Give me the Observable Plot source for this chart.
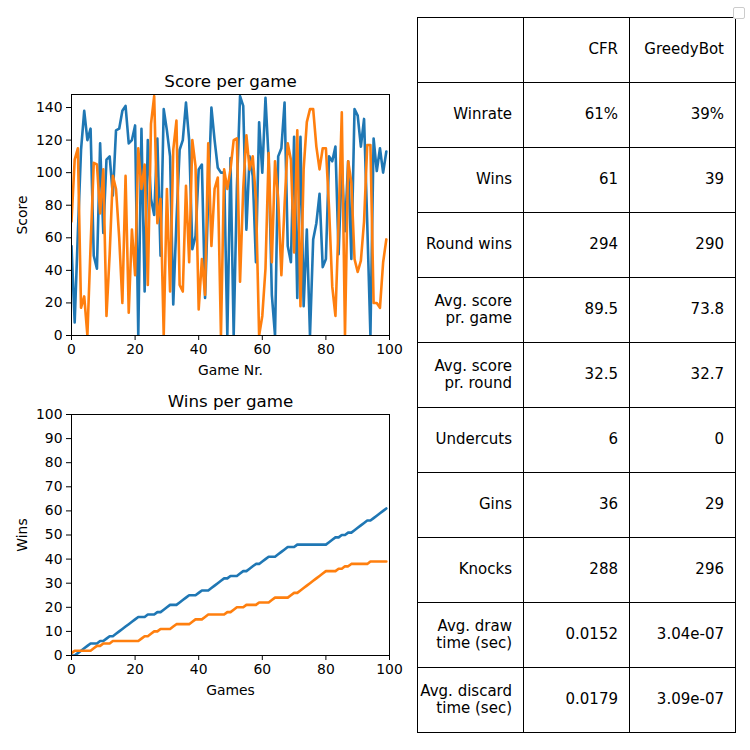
<!DOCTYPE html>
<html>
<head>
<meta charset="utf-8">
<script src="https://cdn.jsdelivr.net/npm/d3@7"></script>
<script src="https://cdn.jsdelivr.net/npm/@observablehq/plot@0.6"></script>
<style>
  body { margin: 0; background: #fff; font-family: "DejaVu Sans", sans-serif; }
  #fig { position: relative; width: 750px; height: 750px; overflow: hidden; }
  #score, #wins { position: absolute; left: 0; }
  #score { top: 60px; }
  #wins { top: 380px; }
  #stats { position: absolute; left: 417px; top: 17px; width: 319px;
           border-collapse: collapse; table-layout: fixed; font-size: 15px; }
  #stats td { border: 1px solid #000; text-align: right; vertical-align: middle;
              height: 64px; padding: 0 11px 0 0; line-height: 1.15; white-space: pre-line; }
  #legend { position: absolute; left: 733px; top: 7px; width: 10px; height: 10px;
            border: 1px solid #ccc; border-radius: 2px; background: #fff; }
</style>
</head>
<body>
<div id="fig">
  <div id="score"></div>
  <div id="wins"></div>
  <table id="stats"></table>
  <div id="legend"></div>
</div>
<script>
const players = ['CFR', 'GreedyBot']
const colors = ['#1f77b4', '#ff7f0e']

// score of each game, game 0..99
const cfrScores = [
  55, 8, 63, 114, 138, 120, 127, 49, 41, 118,
  63, 108, 110, 86, 126, 127, 138, 141, 118, 120,
  129, 0, 127, 27, 120, 84, 74, 121, 49, 139,
  126, 110, 19, 70, 114, 120, 143, 120, 53, 61,
  102, 105, 23, 85, 140, 120, 103, 100, 100, 0,
  109, 0, 90, 147, 141, 65, 110, 98, 45, 131,
  100, 146, 108, 25, 0, 110, 115, 143, 55, 45,
  122, 23, 122, 18, 65, 0, 59, 69, 87, 42,
  47, 110, 107, 116, 50, 105, 64, 107, 47, 139,
  135, 116, 133, 69, 0, 121, 101, 115, 100, 113
]
const greedyScores = [
  70, 108, 115, 17, 24, 0, 55, 106, 105, 75,
  102, 12, 50, 98, 90, 60, 20, 98, 14, 65,
  37, 115, 90, 105, 31, 130, 147, 69, 84, 0,
  90, 27, 114, 132, 31, 27, 92, 45, 120, 104,
  16, 47, 25, 118, 55, 90, 97, 0, 102, 90,
  102, 120, 121, 33, 90, 123, 102, 110, 84, 0,
  12, 41, 112, 45, 107, 84, 37, 80, 118, 108,
  51, 126, 18, 102, 131, 139, 139, 116, 102, 115,
  115, 78, 30, 12, 70, 137, 0, 107, 94, 47,
  39, 46, 70, 117, 117, 20, 20, 17, 45, 59
]

// cumulative wins after each game
const cfrWins = [
  0, 0, 1, 2, 3, 4, 5, 5, 5, 6,
  6, 7, 8, 8, 9, 10, 11, 12, 13, 14,
  15, 16, 16, 16, 17, 17, 17, 18, 18, 19,
  20, 21, 21, 21, 22, 23, 24, 25, 25, 25,
  26, 27, 27, 27, 28, 29, 30, 31, 32, 32,
  33, 33, 33, 34, 35, 35, 36, 37, 38, 38,
  39, 40, 41, 41, 41, 42, 43, 44, 45, 45,
  45, 46, 46, 46, 46, 46, 46, 46, 46, 46,
  46, 47, 48, 49, 49, 50, 50, 51, 51, 52,
  53, 54, 55, 56, 56, 57, 58, 59, 60, 61
]
const greedyWins = [
  1, 2, 2, 2, 2, 2, 2, 3, 4, 4,
  5, 5, 5, 6, 6, 6, 6, 6, 6, 6,
  6, 6, 7, 8, 8, 9, 10, 10, 11, 11,
  11, 11, 12, 13, 13, 13, 13, 13, 14, 15,
  15, 15, 16, 17, 17, 17, 17, 17, 17, 18,
  18, 19, 20, 20, 20, 21, 21, 21, 21, 22,
  22, 22, 22, 23, 24, 24, 24, 24, 24, 25,
  26, 26, 27, 28, 29, 30, 31, 32, 33, 34,
  35, 35, 35, 35, 36, 36, 37, 37, 38, 38,
  38, 38, 38, 38, 39, 39, 39, 39, 39, 39
]

const gameTicks = [0, 20, 40, 60, 80, 100]
const scoreTicks = [0, 20, 40, 60, 80, 100, 120, 140]
const winTicks = [0, 10, 20, 30, 40, 50, 60, 70, 80, 90, 100]

// table
const statLabels = ['Winrate', 'Wins', 'Round wins', 'Avg. score\npr. game', 'Avg. score\npr. round',
                    'Undercuts', 'Gins', 'Knocks', 'Avg. draw\ntime (sec)', 'Avg. discard\ntime (sec)']
const cfrStats = ['61%', '61', '294', '89.5', '32.5', '6', '36', '288', '0.0152', '0.0179']
const greedyStats = ['39%', '39', '290', '73.8', '32.7', '0', '29', '296', '3.04e-07', '3.09e-07']

const toRows = (a, b, key) => [
  ...a.map((v, game) => ({game, [key]: v, player: players[0]})),
  ...b.map((v, game) => ({game, [key]: v, player: players[1]}))
]
const scoreRows = toRows(cfrScores, greedyScores, 'score')
const winRows = toRows(cfrWins, greedyWins, 'wins')

const axisStyle = {
  fontFamily: 'DejaVu Sans',
  fontSize: '13.9px',
  background: 'white',
  color: 'black',
  overflow: 'visible'
}

function chart(rows, yKey, yDomain, yTicks, title, xLabel, yLabel) {
  return Plot.plot({
    width: 400,
    height: 320,
    marginLeft: 71,
    marginRight: 11,
    marginTop: 34,
    marginBottom: 45,
    style: axisStyle,
    x: {
      domain: [0, 100], ticks: gameTicks, label: xLabel,
      labelAnchor: 'center', labelArrow: 'none', labelOffset: 39,
      tickSize: 5, tickPadding: 4
    },
    y: {
      domain: yDomain, ticks: yTicks, label: yLabel,
      labelAnchor: 'center', labelArrow: 'none', labelOffset: 54,
      tickSize: 5, tickPadding: 4
    },
    color: {domain: players, range: colors},
    marks: [
      Plot.line(rows, {x: 'game', y: yKey, z: 'player', stroke: 'player', strokeWidth: 2.6, clip: true}),
      Plot.frame({stroke: 'black', strokeWidth: 1}),
      Plot.text([title], {frameAnchor: 'top', dy: -8, lineAnchor: 'bottom', fontSize: 16.7})
    ]
  })
}

d3.select('#score').append(() =>
  chart(scoreRows, 'score', [0, 148], scoreTicks, 'Score per game', 'Game Nr.', 'Score'))
d3.select('#wins').append(() =>
  chart(winRows, 'wins', [0, 100], winTicks, 'Wins per game', 'Games', 'Wins'))

const table = d3.select('#stats')
const header = table.append('tr')
header.append('td')
players.forEach(p => header.append('td').text(p))
statLabels.forEach((label, i) => {
  const tr = table.append('tr')
  tr.append('td').text(label)
  tr.append('td').text(cfrStats[i])
  tr.append('td').text(greedyStats[i])
})
</script>
</body>
</html>
